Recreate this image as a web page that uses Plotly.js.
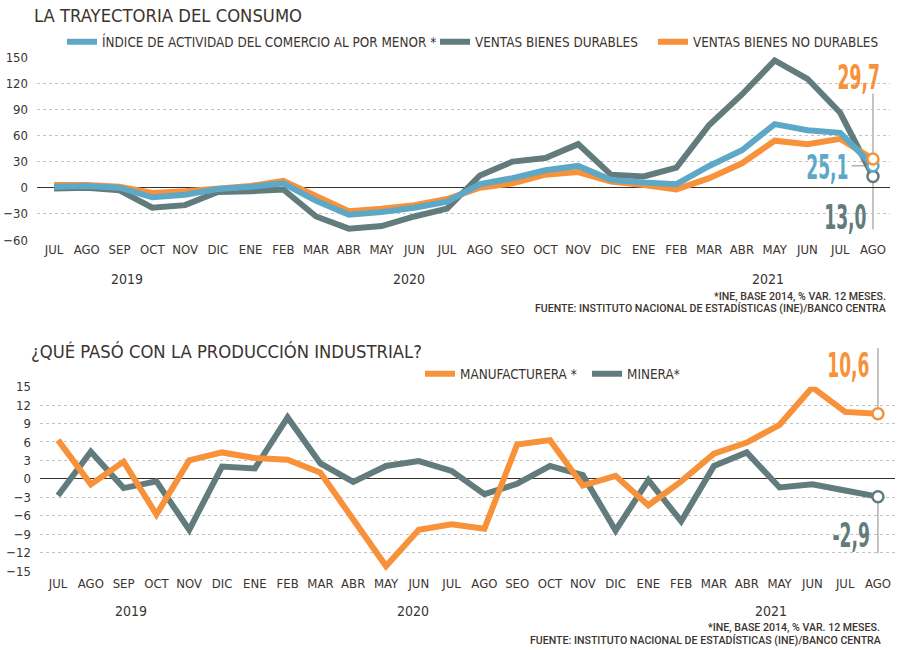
<!DOCTYPE html>
<html>
<head>
<meta charset="utf-8">
<script src="https://cdn.plot.ly/plotly-3.0.1.min.js"></script>
<style>html,body{margin:0;padding:0;background:#fff}#chart{width:900px;height:650px}</style>
</head>
<body>
<div id="chart"></div>
<script>
// ---- data ----
const months = ['JUL','AGO','SEP','OCT','NOV','DIC','ENE','FEB','MAR','ABR','MAY','JUN','JUL','AGO','SEO','OCT','NOV','DIC','ENE','FEB','MAR','ABR','MAY','JUN','JUL','AGO'];
const years = ['2019','2020','2021'];
const indiceComercio = [1, 2, 0, -11, -8, -1.5, 1, 5, -15, -31, -28, -23, -16, 4, 11, 20, 25, 9, 6, 4, 25, 43, 73, 66, 63, 25.1];
const ventasDurables = [-1, 0, -3, -23, -20, -5, -4, -2, -33, -47, -44, -33, -24, 14, 30, 34, 50, 15, 13, 23, 72, 107, 146, 125, 86, 13.0];
const ventasNoDurables = [3, 3, 1, -6, -4, -1, 2, 8, -10, -27, -24, -20, -13, 0, 5, 15, 18, 7, 3, -2, 11, 28, 54, 50, 56, 33];
const manufacturera = [6.3, -0.9, 2.8, -5.8, 3.0, 4.3, 3.4, 3.1, 1.0, -6.4, -14.2, -8.3, -7.4, -8.1, 5.6, 6.3, -1.1, 0.5, -4.3, -0.4, 4.1, 5.9, 8.8, 14.9, 10.9, 10.6];
const minera = [-2.7, 4.4, -1.5, -0.4, -8.3, 2.0, 1.7, 10.0, 2.5, -0.5, 2.1, 2.9, 1.3, -2.5, -0.8, 2.1, 0.6, -8.4, -0.2, -6.9, 2.1, 4.3, -1.4, -0.9, -1.9, -2.9];
const topTicks = [150, 120, 90, 60, 30, 0, -30, -60];
const botTicks = [15, 12, 9, 6, 3, 0, -3, -6, -9, -12, -15];
const lastLabels = {indice: '25,1', durables: '13,0', noDurables: '29,7', manuf: '10,6', minera: '-2,9'};

// ---- styles ----
const BLUE = '#5ea8c7', GRAY = '#627b7d', ORANGE = '#f7913a', INK = '#3b342f';
const FONT = 'DejaVu Sans Condensed, Roboto, sans-serif';
const BIG = 'DejaVu Sans Condensed, Roboto, sans-serif';
const idx = months.map((_, i) => i);
const L = idx.length - 1;

function line(y, color, name, xa, ya, legend) {
  return {type: 'scatter', mode: 'lines', x: idx, y: y, name: name, xaxis: xa, yaxis: ya, legend: legend,
    line: {color: color, width: 6}, hoverinfo: 'skip'};
}
function endMarker(y, color, xa, ya) {
  return {type: 'scatter', mode: 'markers', x: [idx[L]], y: [y[L]], xaxis: xa, yaxis: ya, showlegend: false,
    marker: {size: 11, color: '#ffffff', line: {color: color, width: 2.5}}, hoverinfo: 'skip'};
}

const data = [
  line(ventasDurables, GRAY, 'VENTAS BIENES DURABLES', 'x', 'y', 'legend2'),
  line(ventasNoDurables, ORANGE, 'VENTAS BIENES NO DURABLES', 'x', 'y', 'legend3'),
  line(indiceComercio, BLUE, 'ÍNDICE DE ACTIVIDAD DEL COMERCIO AL POR MENOR *', 'x', 'y', 'legend'),
  endMarker(ventasDurables, GRAY, 'x', 'y'),
  endMarker(indiceComercio, BLUE, 'x', 'y'),
  endMarker(ventasNoDurables, ORANGE, 'x', 'y'),
  line(minera, GRAY, 'MINERA*', 'x2', 'y2', 'legend5'),
  line(manufacturera, ORANGE, 'MANUFACTURERA *', 'x2', 'y2', 'legend4'),
  endMarker(minera, GRAY, 'x2', 'y2'),
  endMarker(manufacturera, ORANGE, 'x2', 'y2')
];

const H = 650, W = 900;
const py = p => 1 - p / H, px = p => p / W;

function leg(x, y) {
  return {x: px(x), y: py(y), xanchor: 'left', yanchor: 'middle', orientation: 'h', bgcolor: 'rgba(0,0,0,0)',
    font: {family: FONT, size: 13.4, color: INK}, itemwidth: 30, tracegroupgap: 0};
}

const xCommon = {showgrid: false, zeroline: false, ticks: '', showline: false, tickvals: idx, ticktext: months,
  tickfont: {family: FONT, size: 13, color: INK}, fixedrange: true};
const yCommon = {showgrid: true, gridcolor: '#c4c4c4', griddash: 'dot', gridwidth: 1, zeroline: true,
  zerolinecolor: '#3a302a', zerolinewidth: 1.2, ticks: '', showline: false, ticklabelstandoff: 8,
  tickfont: {family: FONT, size: 13, color: INK}, fixedrange: true};

const ann = [];
const bigIdx = [];
function txt(text, x, y, xref, yref, opts, big) {
  if (big) bigIdx.push([ann.length, opts.xanchor]);
  ann.push(Object.assign({text: text, x: x, y: y, xref: xref, yref: yref, showarrow: false, yanchor: 'middle'}, opts));
}
// titles
txt('LA TRAYECTORIA DEL CONSUMO', px(32), py(16), 'paper', 'paper', {xanchor: 'left', font: {family: FONT, size: 18.3, color: INK}});
txt('¿QUÉ PASÓ CON LA PRODUCCIÓN INDUSTRIAL?', px(29), py(351), 'paper', 'paper', {xanchor: 'left', font: {family: FONT, size: 18.3, color: INK}});
// years
[[2.23, 279], [10.84, 279], [21.8, 279]].forEach((p, i) => txt(years[i], p[0], py(p[1]), 'x', 'paper', {font: {family: FONT, size: 14, color: INK}}));
[[2.23, 611], [10.82, 611], [21.74, 611]].forEach((p, i) => txt(years[i], p[0], py(p[1]), 'x2', 'paper', {font: {family: FONT, size: 14, color: INK}}));
// footnotes
const noteFont = {family: 'Roboto, sans-serif', size: 10.6, color: INK, weight: 500};
txt('*INE, BASE 2014, % VAR. 12 MESES.', px(888), py(296), 'paper', 'paper', {xanchor: 'right', font: noteFont});
txt('FUENTE: INSTITUTO NACIONAL DE ESTADÍSTICAS (INE)/BANCO CENTRA', px(888), py(308), 'paper', 'paper', {xanchor: 'right', font: noteFont});
txt('*INE, BASE 2014, % VAR. 12 MESES.', px(882), py(627), 'paper', 'paper', {xanchor: 'right', font: noteFont});
txt('FUENTE: INSTITUTO NACIONAL DE ESTADÍSTICAS (INE)/BANCO CENTRA', px(883), py(640), 'paper', 'paper', {xanchor: 'right', font: noteFont});
// end value labels
const bigFont = c => ({family: BIG, size: 34, color: c, weight: 'bold'});
txt(lastLabels.noDurables, 24.55, 127, 'x', 'y', {xanchor: 'center', font: bigFont(ORANGE)}, true);
txt(lastLabels.indice, 24.3, 24, 'x', 'y', {xanchor: 'right', font: bigFont(BLUE)}, true);
txt(lastLabels.durables, 24.85, -34, 'x', 'y', {xanchor: 'right', font: bigFont(GRAY)}, true);
txt(lastLabels.manuf, 24.8, py(365), 'x2', 'paper', {xanchor: 'right', font: bigFont(ORANGE)}, true);
txt(lastLabels.minera, 24.82, -9.1, 'x2', 'y2', {xanchor: 'right', font: bigFont(GRAY)}, true);

const connector = {color: '#8a8a8a', width: 1};
const shapes = [
  {type: 'line', xref: 'x', yref: 'y', x0: L, x1: L, y0: 108, y1: -48, line: connector, layer: 'below'},
  {type: 'line', xref: 'x', yref: 'y', x0: 24.35, x1: L - 0.15, y0: indiceComercio[L], y1: indiceComercio[L], line: connector, layer: 'below'},
  {type: 'line', xref: 'x2', yref: 'paper', x0: L, x1: L, y0: py(348), y1: py(409), line: connector, layer: 'below'},
  {type: 'line', xref: 'x2', yref: 'y2', x0: L, x1: L, y0: minera[L], y1: -12.1, line: connector, layer: 'below'}
];

const layout = {
  width: W, height: H, margin: {l: 0, r: 0, t: 0, b: 0}, paper_bgcolor: '#fff', plot_bgcolor: '#fff',
  showlegend: true,
  xaxis: Object.assign({}, xCommon, {domain: [px(37), px(890)], range: [-0.52, 25.52], anchor: 'y'}),
  yaxis: Object.assign({}, yCommon, {domain: [py(240), py(57)], range: [-60, 150], tickvals: topTicks, anchor: 'x'}),
  xaxis2: Object.assign({}, xCommon, {domain: [px(40), px(895)], range: [-0.55, 25.52], anchor: 'y2', ticklabelstandoff: 3}),
  yaxis2: Object.assign({}, yCommon, {domain: [py(571), py(386.7)], range: [-15, 15], tickvals: botTicks, anchor: 'x2'}),
  legend: leg(62, 42),
  legend2: leg(435, 42),
  legend3: leg(653, 42),
  legend4: leg(420, 374),
  legend5: leg(587, 374),
  annotations: ann,
  shapes: shapes
};

Plotly.newPlot('chart', data, layout, {staticPlot: true, displayModeBar: false}).then(gd => {
  bigIdx.forEach(([k, anchor]) => {
    const t = gd.querySelector('.annotation[data-index="' + k + '"] .annotation-text');
    if (!t) return;
    t.style.transformBox = 'fill-box';
    t.style.transformOrigin = (anchor === 'right' ? 'right' : 'center') + ' center';
    t.style.transform = 'scaleX(0.56)';
  });
});
</script>
</body>
</html>
